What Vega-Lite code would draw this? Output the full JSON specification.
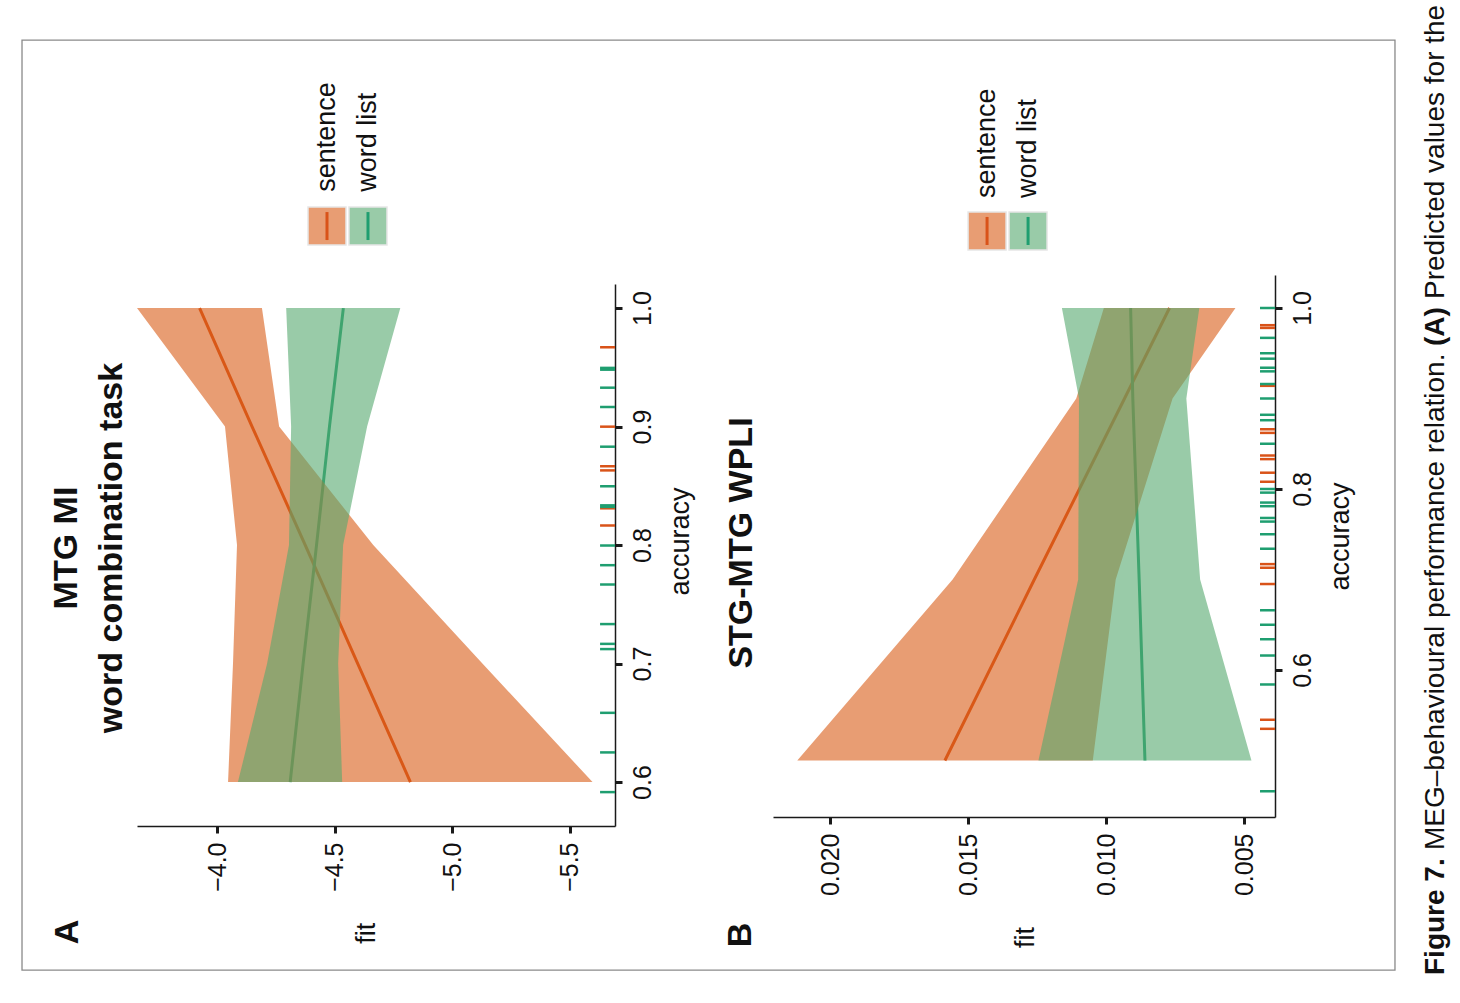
{
  "$schema": "https://vega.github.io/schema/vega-lite/v6.json",
  "width": 1460,
  "height": 1003,
  "autosize": "none",
  "padding": 0,
  "background": "white",
  "config": {
    "view": {"stroke": null},
    "font": "Liberation Sans",
    "axis": {
      "grid": false,
      "domainColor": "#1a1a1a",
      "domainWidth": 1.5,
      "tickColor": "#1a1a1a",
      "tickWidth": 3,
      "tickSize": 7,
      "labelFont": "Liberation Sans",
      "labelFontSize": 25,
      "labelColor": "#111111",
      "titleFont": "Liberation Sans",
      "titleFontSize": 27,
      "titleFontWeight": "normal",
      "titleColor": "#111111",
      "labelFlush": false,
      "labelOverlap": false,
      "labelBound": false
    }
  },
  "datasets": {
    "bandsA": [
      {"group": "sentence", "accuracy": 0.6, "fit": -4.822, "lower": -5.596, "upper": -4.047},
      {"group": "sentence", "accuracy": 0.7, "fit": -4.598, "lower": -5.128, "upper": -4.068},
      {"group": "sentence", "accuracy": 0.8, "fit": -4.375, "lower": -4.664, "upper": -4.085},
      {"group": "sentence", "accuracy": 0.9, "fit": -4.149, "lower": -4.264, "upper": -4.034},
      {"group": "sentence", "accuracy": 1.0, "fit": -3.926, "lower": -4.191, "upper": -3.66},
      {"group": "word list", "accuracy": 0.6, "fit": -4.311, "lower": -4.532, "upper": -4.089},
      {"group": "word list", "accuracy": 0.7, "fit": -4.366, "lower": -4.515, "upper": -4.213},
      {"group": "word list", "accuracy": 0.8, "fit": -4.423, "lower": -4.536, "upper": -4.306},
      {"group": "word list", "accuracy": 0.9, "fit": -4.478, "lower": -4.638, "upper": -4.315},
      {"group": "word list", "accuracy": 1.0, "fit": -4.537, "lower": -4.779, "upper": -4.294}
    ],
    "rugA": [
      {"group": "sentence", "accuracy": 0.9669},
      {"group": "sentence", "accuracy": 0.8999},
      {"group": "sentence", "accuracy": 0.8665},
      {"group": "sentence", "accuracy": 0.863},
      {"group": "sentence", "accuracy": 0.831},
      {"group": "sentence", "accuracy": 0.8165},
      {"group": "word list", "accuracy": 0.9495},
      {"group": "word list", "accuracy": 0.948},
      {"group": "word list", "accuracy": 0.9328},
      {"group": "word list", "accuracy": 0.9165},
      {"group": "word list", "accuracy": 0.883},
      {"group": "word list", "accuracy": 0.8496},
      {"group": "word list", "accuracy": 0.8335},
      {"group": "word list", "accuracy": 0.8322},
      {"group": "word list", "accuracy": 0.7996},
      {"group": "word list", "accuracy": 0.783},
      {"group": "word list", "accuracy": 0.7667},
      {"group": "word list", "accuracy": 0.7333},
      {"group": "word list", "accuracy": 0.7166},
      {"group": "word list", "accuracy": 0.7122},
      {"group": "word list", "accuracy": 0.6584},
      {"group": "word list", "accuracy": 0.625},
      {"group": "word list", "accuracy": 0.5915}
    ],
    "bandsB": [
      {"group": "sentence", "accuracy": 0.5, "fit": 0.01584, "lower": 0.01048, "upper": 0.02119},
      {"group": "sentence", "accuracy": 0.7, "fit": 0.0126, "lower": 0.00965, "upper": 0.01556},
      {"group": "sentence", "accuracy": 0.9, "fit": 0.00933, "lower": 0.00759, "upper": 0.01108},
      {"group": "sentence", "accuracy": 1.0, "fit": 0.0077, "lower": 0.00531, "upper": 0.01008},
      {"group": "word list", "accuracy": 0.5, "fit": 0.00859, "lower": 0.00473, "upper": 0.01245},
      {"group": "word list", "accuracy": 0.7, "fit": 0.0088, "lower": 0.00659, "upper": 0.01101},
      {"group": "word list", "accuracy": 0.9, "fit": 0.00903, "lower": 0.00709, "upper": 0.01098},
      {"group": "word list", "accuracy": 1.0, "fit": 0.00911, "lower": 0.00662, "upper": 0.0116}
    ],
    "rugB": [
      {"group": "sentence", "accuracy": 0.981},
      {"group": "sentence", "accuracy": 0.978},
      {"group": "sentence", "accuracy": 0.914},
      {"group": "sentence", "accuracy": 0.866},
      {"group": "sentence", "accuracy": 0.862},
      {"group": "sentence", "accuracy": 0.837},
      {"group": "sentence", "accuracy": 0.833},
      {"group": "sentence", "accuracy": 0.818},
      {"group": "sentence", "accuracy": 0.808},
      {"group": "sentence", "accuracy": 0.717},
      {"group": "sentence", "accuracy": 0.713},
      {"group": "sentence", "accuracy": 0.695},
      {"group": "sentence", "accuracy": 0.545},
      {"group": "sentence", "accuracy": 0.535},
      {"group": "word list", "accuracy": 1.0},
      {"group": "word list", "accuracy": 0.967},
      {"group": "word list", "accuracy": 0.95},
      {"group": "word list", "accuracy": 0.944},
      {"group": "word list", "accuracy": 0.934},
      {"group": "word list", "accuracy": 0.93},
      {"group": "word list", "accuracy": 0.916},
      {"group": "word list", "accuracy": 0.9},
      {"group": "word list", "accuracy": 0.882},
      {"group": "word list", "accuracy": 0.876},
      {"group": "word list", "accuracy": 0.85},
      {"group": "word list", "accuracy": 0.8},
      {"group": "word list", "accuracy": 0.796},
      {"group": "word list", "accuracy": 0.785},
      {"group": "word list", "accuracy": 0.781},
      {"group": "word list", "accuracy": 0.768},
      {"group": "word list", "accuracy": 0.764},
      {"group": "word list", "accuracy": 0.75},
      {"group": "word list", "accuracy": 0.734},
      {"group": "word list", "accuracy": 0.666},
      {"group": "word list", "accuracy": 0.65},
      {"group": "word list", "accuracy": 0.634},
      {"group": "word list", "accuracy": 0.616},
      {"group": "word list", "accuracy": 0.584},
      {"group": "word list", "accuracy": 0.466}
    ]
  },
  "resolve": {
    "scale": {"x": "independent", "y": "independent"},
    "axis": {"x": "independent", "y": "independent"}
  },
  "layer": [
    {
      "layer": [
        {
          "data": {"name": "bandsA"},
          "mark": {"type": "line", "strokeWidth": 3},
          "encoding": {
            "x": {"field": "fit", "type": "quantitative",
              "scale": {"domain": [-3.66, -5.6915], "range": [137, 615], "zero": false, "nice": false},
              "axis": {"orient": "bottom", "offset": -177, "values": [-4, -4.5, -5, -5.5], "format": ".1f", "title": "fit",
                "labelAngle": 270, "labelAlign": "right", "labelBaseline": "middle", "labelPadding": 9,
                "titleAngle": 270, "titleAlign": "right", "titleBaseline": "middle", "titlePadding": 31, "titleX": 366}},
            "y": {"field": "accuracy", "type": "quantitative",
              "scale": {"domain": [0.5629, 1.0203], "range": [826, 284], "zero": false, "nice": false},
              "axis": {"orient": "right", "offset": -845, "values": [0.6, 0.7, 0.8, 0.9, 1.0], "format": ".1f", "title": "accuracy",
                "labelAngle": 270, "labelAlign": "center", "labelBaseline": "top", "labelPadding": 8,
                "titleAngle": 270, "titleAlign": "center", "titleBaseline": "top", "titlePadding": 12, "titleY": 541}},
            "color": {"field": "group", "type": "nominal", "scale": {"domain": ["sentence", "word list"], "range": ["#D95319", "#1F9E70"]}, "legend": null},
            "order": {"field": "accuracy", "type": "quantitative"}
          }
        },
        {
          "data": {"name": "bandsA"},
          "mark": {"type": "area", "orient": "horizontal", "fillOpacity": 0.6},
          "encoding": {
            "x": {"field": "lower", "type": "quantitative", "scale": {"domain": [-3.66, -5.6915], "range": [137, 615], "zero": false, "nice": false}},
            "x2": {"field": "upper"},
            "y": {"field": "accuracy", "type": "quantitative", "scale": {"domain": [0.5629, 1.0203], "range": [826, 284], "zero": false, "nice": false}},
            "fill": {"field": "group", "type": "nominal", "scale": {"domain": ["sentence", "word list"], "range": ["#D95C16", "#55A86E"]}, "legend": null}
          }
        },
        {
          "data": {"name": "rugA"},
          "mark": {"type": "rule", "strokeWidth": 2.5},
          "encoding": {
            "y": {"field": "accuracy", "type": "quantitative", "scale": {"domain": [0.5629, 1.0203], "range": [826, 284], "zero": false, "nice": false}},
            "x": {"datum": -5.628, "type": "quantitative", "scale": {"domain": [-3.66, -5.6915], "range": [137, 615], "zero": false, "nice": false}},
            "x2": {"datum": -5.6915},
            "color": {"field": "group", "type": "nominal", "scale": {"domain": ["sentence", "word list"], "range": ["#D95319", "#1F9E70"]}, "legend": null}
          }
        },
        {
          "data": {"values": [{}]},
          "mark": {"type": "point", "shape": "square", "size": 1444, "filled": true, "fill": "#D95C16", "fillOpacity": 0.6, "stroke": "#e6e6e6", "strokeWidth": 1.5, "opacity": 1},
          "encoding": {
            "x": {"datum": -4.4675, "type": "quantitative"},
            "y": {"datum": 1.0692, "type": "quantitative"}
          }
        },
        {
          "data": {"values": [{}]},
          "mark": {"type": "point", "shape": "square", "size": 1444, "filled": true, "fill": "#55A86E", "fillOpacity": 0.6, "stroke": "#e6e6e6", "strokeWidth": 1.5, "opacity": 1},
          "encoding": {
            "x": {"datum": -4.6417, "type": "quantitative"},
            "y": {"datum": 1.0692, "type": "quantitative"}
          }
        },
        {
          "data": {"values": [{}]},
          "mark": {"type": "rule", "color": "#D95319", "strokeWidth": 3},
          "encoding": {
            "x": {"datum": -4.4675, "type": "quantitative"},
            "y": {"datum": 1.081, "type": "quantitative"},
            "y2": {"datum": 1.0574}
          }
        },
        {
          "data": {"values": [{}]},
          "mark": {"type": "rule", "color": "#1F9E70", "strokeWidth": 3},
          "encoding": {
            "x": {"datum": -4.6417, "type": "quantitative"},
            "y": {"datum": 1.081, "type": "quantitative"},
            "y2": {"datum": 1.0574}
          }
        },
        {
          "data": {"values": [{}]},
          "mark": {"type": "text", "text": "sentence", "angle": 270, "align": "left", "baseline": "middle", "fontSize": 27, "color": "#111111"},
          "encoding": {
            "x": {"datum": -4.4675, "type": "quantitative"},
            "y": {"datum": 1.0982, "type": "quantitative"}
          }
        },
        {
          "data": {"values": [{}]},
          "mark": {"type": "text", "text": "word list", "angle": 270, "align": "left", "baseline": "middle", "fontSize": 27, "color": "#111111"},
          "encoding": {
            "x": {"datum": -4.6417, "type": "quantitative"},
            "y": {"datum": 1.0982, "type": "quantitative"}
          }
        },
        {
          "data": {"values": [{}]},
          "mark": {"type": "text", "text": ["MTG MI", "word combination task"], "angle": 270, "align": "center", "baseline": "middle", "fontSize": 34, "fontWeight": "bold", "lineHeight": 45, "color": "#111111"},
          "encoding": {
            "x": {"datum": -3.3625, "type": "quantitative"},
            "y": {"datum": 0.7975, "type": "quantitative"}
          }
        },
        {
          "data": {"values": [{}]},
          "mark": {"type": "text", "text": "A", "angle": 270, "align": "center", "baseline": "middle", "fontSize": 34, "fontWeight": "bold", "color": "#111111"},
          "encoding": {
            "x": {"datum": -3.3668, "type": "quantitative"},
            "y": {"datum": 0.47342, "type": "quantitative"}
          }
        },
        {
          "data": {"values": [{}]},
          "mark": {"type": "rect", "filled": false, "color": "#8a8a8a", "strokeWidth": 1.3},
          "encoding": {
            "x": {"datum": -3.1713, "type": "quantitative"},
            "x2": {"datum": -9.0064},
            "y": {"datum": 1.22616, "type": "quantitative"},
            "y2": {"datum": 0.44135}
          }
        }
      ]
    },
    {
      "layer": [
        {
          "data": {"name": "bandsB"},
          "mark": {"type": "line", "strokeWidth": 3},
          "encoding": {
            "x": {"field": "fit", "type": "quantitative",
              "scale": {"domain": [0.02207, 0.003877], "range": [773, 1275], "zero": false, "nice": false},
              "axis": {"orient": "bottom", "offset": -186, "values": [0.005, 0.01, 0.015, 0.02], "format": ".3f", "title": "fit",
                "labelAngle": 270, "labelAlign": "right", "labelBaseline": "middle", "labelPadding": 9,
                "titleAngle": 270, "titleAlign": "right", "titleBaseline": "middle", "titlePadding": 31, "titleX": 1025}},
            "y": {"field": "accuracy", "type": "quantitative",
              "scale": {"domain": [0.43757, 1.03646], "range": [817, 275], "zero": false, "nice": false},
              "axis": {"orient": "right", "offset": -185, "values": [0.6, 0.8, 1.0], "format": ".1f", "title": "accuracy",
                "labelAngle": 270, "labelAlign": "center", "labelBaseline": "top", "labelPadding": 8,
                "titleAngle": 270, "titleAlign": "center", "titleBaseline": "top", "titlePadding": 12, "titleY": 536}},
            "color": {"field": "group", "type": "nominal", "scale": {"domain": ["sentence", "word list"], "range": ["#D95319", "#1F9E70"]}, "legend": null},
            "order": {"field": "accuracy", "type": "quantitative"}
          }
        },
        {
          "data": {"name": "bandsB"},
          "mark": {"type": "area", "orient": "horizontal", "fillOpacity": 0.6},
          "encoding": {
            "x": {"field": "lower", "type": "quantitative", "scale": {"domain": [0.02207, 0.003877], "range": [773, 1275], "zero": false, "nice": false}},
            "x2": {"field": "upper"},
            "y": {"field": "accuracy", "type": "quantitative", "scale": {"domain": [0.43757, 1.03646], "range": [817, 275], "zero": false, "nice": false}},
            "fill": {"field": "group", "type": "nominal", "scale": {"domain": ["sentence", "word list"], "range": ["#D95C16", "#55A86E"]}, "legend": null}
          }
        },
        {
          "data": {"name": "rugB"},
          "mark": {"type": "rule", "strokeWidth": 2.5},
          "encoding": {
            "y": {"field": "accuracy", "type": "quantitative", "scale": {"domain": [0.43757, 1.03646], "range": [817, 275], "zero": false, "nice": false}},
            "x": {"datum": 0.00442, "type": "quantitative", "scale": {"domain": [0.02207, 0.003877], "range": [773, 1275], "zero": false, "nice": false}},
            "x2": {"datum": 0.003877},
            "color": {"field": "group", "type": "nominal", "scale": {"domain": ["sentence", "word list"], "range": ["#D95319", "#1F9E70"]}, "legend": null}
          }
        },
        {
          "data": {"values": [{}]},
          "mark": {"type": "point", "shape": "square", "size": 1444, "filled": true, "fill": "#D95C16", "fillOpacity": 0.6, "stroke": "#e6e6e6", "strokeWidth": 1.5, "opacity": 1},
          "encoding": {
            "x": {"datum": 0.014312, "type": "quantitative"},
            "y": {"datum": 1.0851, "type": "quantitative"}
          }
        },
        {
          "data": {"values": [{}]},
          "mark": {"type": "point", "shape": "square", "size": 1444, "filled": true, "fill": "#55A86E", "fillOpacity": 0.6, "stroke": "#e6e6e6", "strokeWidth": 1.5, "opacity": 1},
          "encoding": {
            "x": {"datum": 0.012826, "type": "quantitative"},
            "y": {"datum": 1.0851, "type": "quantitative"}
          }
        },
        {
          "data": {"values": [{}]},
          "mark": {"type": "rule", "color": "#D95319", "strokeWidth": 3},
          "encoding": {
            "x": {"datum": 0.014312, "type": "quantitative"},
            "y": {"datum": 1.1006, "type": "quantitative"},
            "y2": {"datum": 1.0696}
          }
        },
        {
          "data": {"values": [{}]},
          "mark": {"type": "rule", "color": "#1F9E70", "strokeWidth": 3},
          "encoding": {
            "x": {"datum": 0.012826, "type": "quantitative"},
            "y": {"datum": 1.1006, "type": "quantitative"},
            "y2": {"datum": 1.0696}
          }
        },
        {
          "data": {"values": [{}]},
          "mark": {"type": "text", "text": "sentence", "angle": 270, "align": "left", "baseline": "middle", "fontSize": 27, "color": "#111111"},
          "encoding": {
            "x": {"datum": 0.014312, "type": "quantitative"},
            "y": {"datum": 1.1215, "type": "quantitative"}
          }
        },
        {
          "data": {"values": [{}]},
          "mark": {"type": "text", "text": "word list", "angle": 270, "align": "left", "baseline": "middle", "fontSize": 27, "color": "#111111"},
          "encoding": {
            "x": {"datum": 0.012826, "type": "quantitative"},
            "y": {"datum": 1.1215, "type": "quantitative"}
          }
        },
        {
          "data": {"values": [{}]},
          "mark": {"type": "text", "text": "STG-MTG WPLI", "angle": 270, "align": "center", "baseline": "middle", "fontSize": 34, "fontWeight": "bold", "color": "#111111"},
          "encoding": {
            "x": {"datum": 0.023188, "type": "quantitative"},
            "y": {"datum": 0.74033, "type": "quantitative"}
          }
        },
        {
          "data": {"values": [{}]},
          "mark": {"type": "text", "text": "B", "angle": 270, "align": "center", "baseline": "middle", "fontSize": 34, "fontWeight": "bold", "color": "#111111"},
          "encoding": {
            "x": {"datum": 0.023225, "type": "quantitative"},
            "y": {"datum": 0.30718, "type": "quantitative"}
          }
        },
        {
          "data": {"values": [{}]},
          "mark": {"type": "text", "text": "Figure 7.", "angle": 270, "align": "left", "baseline": "middle", "fontSize": 28, "fontWeight": "bold", "color": "#111111"},
          "encoding": {
            "x": {"datum": -0.00196, "type": "quantitative"},
            "y": {"datum": 0.26298, "type": "quantitative"}
          }
        },
        {
          "data": {"values": [{}]},
          "mark": {"type": "text", "text": "MEG–behavioural performance relation.", "angle": 270, "align": "left", "baseline": "middle", "fontSize": 28, "color": "#111111"},
          "encoding": {
            "x": {"datum": -0.00196, "type": "quantitative"},
            "y": {"datum": 0.4011, "type": "quantitative"}
          }
        },
        {
          "data": {"values": [{}]},
          "mark": {"type": "text", "text": "(A)", "angle": 270, "align": "left", "baseline": "middle", "fontSize": 28, "fontWeight": "bold", "color": "#111111"},
          "encoding": {
            "x": {"datum": -0.00196, "type": "quantitative"},
            "y": {"datum": 0.95801, "type": "quantitative"}
          }
        },
        {
          "data": {"values": [{}]},
          "mark": {"type": "text", "text": "Predicted values for the", "angle": 270, "align": "left", "baseline": "middle", "fontSize": 28, "color": "#111111"},
          "encoding": {
            "x": {"datum": -0.00196, "type": "quantitative"},
            "y": {"datum": 1.00994, "type": "quantitative"}
          }
        }
      ]
    }
  ]
}
